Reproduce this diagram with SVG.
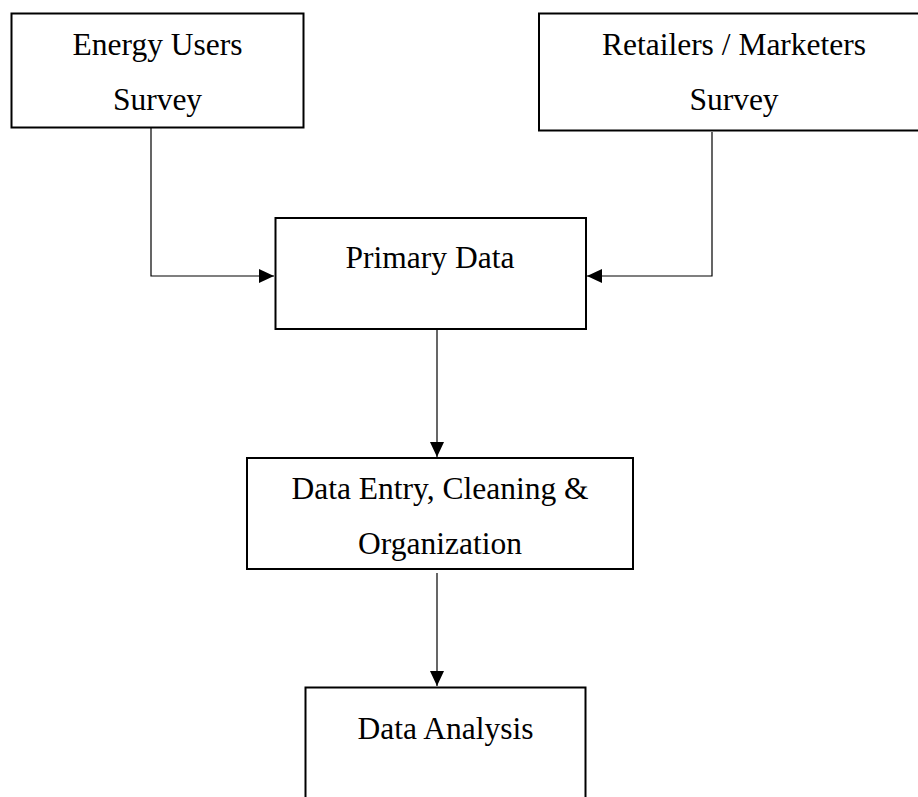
<svg xmlns="http://www.w3.org/2000/svg" width="918" height="797" viewBox="0 0 918 797">
<style>
.box{fill:#fff;stroke:#000;stroke-width:2}
.lbl{font-family:"Liberation Serif","Times New Roman",serif;font-size:31.5px;fill:#000;text-anchor:middle}
.conn{fill:none;stroke:#000;stroke-width:1.2}
</style>
<defs>
<marker id="arr" markerWidth="15" markerHeight="14" refX="15" refY="7" orient="auto" markerUnits="userSpaceOnUse">
<path d="M0,0 L15,7 L0,14 Z" fill="#000"/>
</marker>
</defs>
<rect width="918" height="797" fill="#fff"/>
<g id="connectors">
<path class="conn" d="M151,128 V276 H274" marker-end="url(#arr)"/>
<path class="conn" d="M712,132 V276 H587" marker-end="url(#arr)"/>
<path class="conn" d="M437,330 V457" marker-end="url(#arr)"/>
<path class="conn" d="M437,573 V686" marker-end="url(#arr)"/>
</g>
<g id="energy-users">
<rect class="box" x="11.5" y="13.5" width="292" height="114"/>
<text class="lbl" x="157.5" y="55">Energy Users</text>
<text class="lbl" x="157.5" y="110">Survey</text>
</g>
<g id="retailers">
<rect class="box" x="539" y="13.5" width="392" height="117"/>
<text class="lbl" x="734" y="55">Retailers / Marketers</text>
<text class="lbl" x="734" y="110">Survey</text>
</g>
<g id="primary-data">
<rect class="box" x="275.5" y="218" width="310.5" height="111"/>
<text class="lbl" x="430" y="268">Primary Data</text>
</g>
<g id="data-entry">
<rect class="box" x="247" y="458" width="386" height="111"/>
<text class="lbl" x="440" y="499">Data Entry, Cleaning &amp;</text>
<text class="lbl" x="440" y="554">Organization</text>
</g>
<g id="data-analysis">
<rect class="box" x="305.5" y="687.5" width="280" height="120"/>
<text class="lbl" x="445.5" y="739">Data Analysis</text>
</g>
</svg>
